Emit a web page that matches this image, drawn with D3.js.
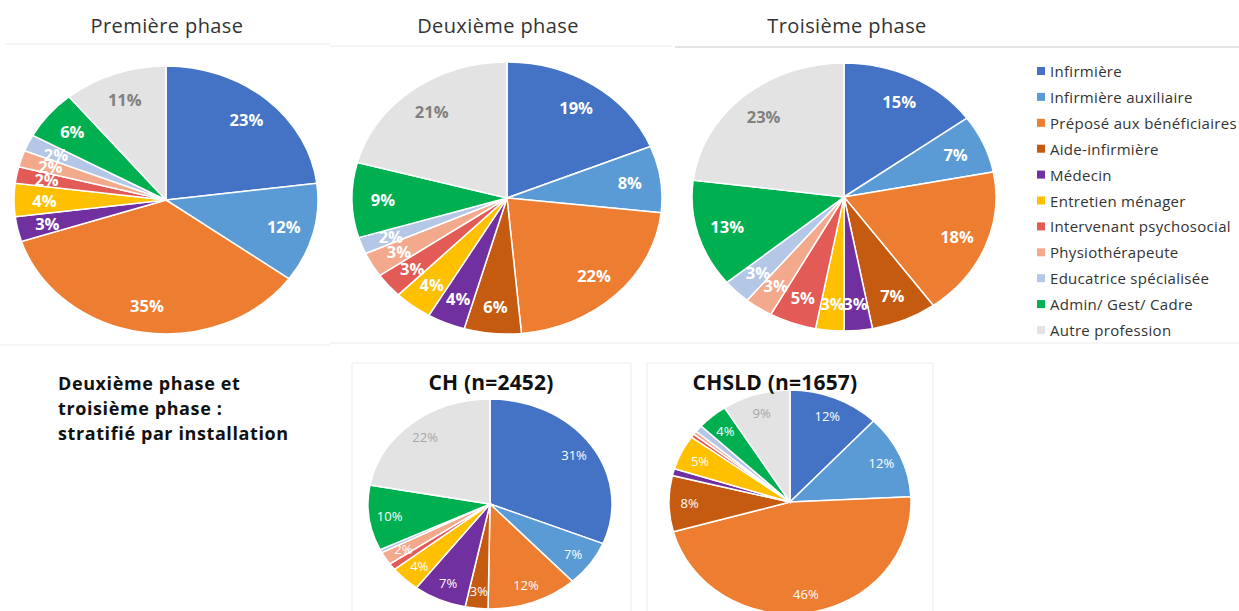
<!DOCTYPE html>
<html><head><meta charset="utf-8">
<script src="https://cdn.jsdelivr.net/npm/d3@7"></script>
<style>
body{margin:0;background:#fff;}
svg{display:block;font-family:"Open Sans",sans-serif;}
</style></head>
<body>
<svg id="c" width="1239" height="611"></svg>
<script>
const categories = ["Infirmière","Infirmière auxiliaire","Préposé aux bénéficiaires","Aide-infirmière","Médecin","Entretien ménager","Intervenant psychosocial","Physiothérapeute","Educatrice spécialisée","Admin/ Gest/ Cadre","Autre profession"];
const colors = ["#4472C4","#5B9BD5","#ED7D31","#C55A11","#7030A0","#FFC000","#E35B56","#F2A98C","#B4C7E7","#00B050","#E4E3E3"];

const phase1 = [23,12,35,0,3,4,2,2,2,6,11];
const phase2 = [19,8,22,6,4,4,3,3,2,9,21];
const phase3 = [15,7,18,7,3,3,5,3,3,13,23];
const ch     = [31,7,12,3,7,4,1,2,0.5,10,22];
const chsld  = [12,12,46,8,1,5,0.5,0.5,1,4,9];

const phase1Labels = ["23%","12%","35%",null,"3%","4%","2%","2%","2%","6%","11%"];
const phase2Labels = ["19%","8%","22%","6%","4%","4%","3%","3%","2%","9%","21%"];
const phase3Labels = ["15%","7%","18%","7%","3%","3%","5%","3%","3%","13%","23%"];
const chLabels     = ["31%","7%","12%","3%","7%","4%",null,"2%",null,"10%","22%"];
const chsldLabels  = ["12%","12%","46%","8%",null,"5%",null,null,null,"4%","9%"];

const titles = ["Première phase","Deuxième phase","Troisième phase","CH (n=2452)","CHSLD (n=1657)"];
const sideText = ["Deuxième phase et","troisième phase :","stratifié par installation"];

const svg = d3.select("#c");

// faint panel frames
const frameLines = [
  [5,44,330,44],[330,46,672,46],[675,47,1239,47],
  [0,345,330,345],[330,343,1239,343],
  [352,363,631,363],[352,363,352,611],[631,363,631,611],
  [647,363,933,363],[647,363,647,611],[933,363,933,611]
];
svg.selectAll("line.f").data(frameLines).join("line")
  .attr("x1",d=>d[0]).attr("y1",d=>d[1]).attr("x2",d=>d[2]).attr("y2",d=>d[3])
  .attr("stroke",(d,i)=>i===2?"#c8c8c8":"#ececec").attr("stroke-width",1);

const pie = d3.pie().sort(null).value(d=>d);

function drawPie(values, labels, cfg){
  const arcs = pie(values);
  const g = svg.append("g").attr("transform",`translate(${cfg.cx},${cfg.cy}) scale(${cfg.rx/cfg.ry},1)`);
  const arc = d3.arc().innerRadius(0).outerRadius(cfg.ry);
  g.selectAll("path").data(arcs.filter(a=>a.value>0)).join("path")
    .attr("d",arc).attr("fill",d=>colors[d.index])
    .attr("stroke","#fff").attr("stroke-width",1.5).attr("vector-effect","non-scaling-stroke");
  svg.append("g").selectAll("text").data(arcs.filter(a=>labels[a.index])).join("text")
    .attr("x",d=>cfg.cx + cfg.k*cfg.rx*Math.sin((d.startAngle+d.endAngle)/2))
    .attr("y",d=>cfg.cy - cfg.k*cfg.ry*Math.cos((d.startAngle+d.endAngle)/2))
    .attr("text-anchor","middle").attr("dominant-baseline","central")
    .attr("font-size",cfg.fs).attr("font-weight",cfg.bold?"bold":"normal")
    .attr("fill",d=>d.index===10?cfg.grey:"#fff")
    .text(d=>labels[d.index]);
}

drawPie(phase1, phase1Labels, {cx:166,cy:200,rx:152,ry:134,k:0.8,fs:16.5,bold:true,grey:"#808080"});
drawPie(phase2, phase2Labels, {cx:507,cy:198,rx:155,ry:136,k:0.8,fs:16.5,bold:true,grey:"#808080"});
drawPie(phase3, phase3Labels, {cx:844,cy:197,rx:152,ry:134,k:0.8,fs:16.5,bold:true,grey:"#808080"});
drawPie(ch, chLabels, {cx:490,cy:504,rx:122,ry:105,k:0.83,fs:13,bold:false,grey:"#a6a6a6"});
drawPie(chsld, chsldLabels, {cx:790,cy:502,rx:121,ry:112,k:0.83,fs:13,bold:false,grey:"#a6a6a6"});

// titles
const titlePos = [[167,25,20,"normal","#333",0.4],[498,25,20,"normal","#333",0.4],[847,25,20,"normal","#333",0.4],[491,382,21,"bold","#111",0.2],[775,382,21,"bold","#111",0.2]];
svg.selectAll("text.t").data(titles).join("text").attr("class","t")
  .attr("x",(d,i)=>titlePos[i][0]).attr("y",(d,i)=>titlePos[i][1])
  .attr("font-size",(d,i)=>titlePos[i][2]).attr("font-weight",(d,i)=>titlePos[i][3])
  .attr("fill",(d,i)=>titlePos[i][4]).attr("letter-spacing",(d,i)=>titlePos[i][5])
  .attr("text-anchor","middle").attr("dominant-baseline","central").text(d=>d);

// side text
svg.selectAll("text.s").data(sideText).join("text").attr("class","s")
  .attr("x",58).attr("y",(d,i)=>383+i*25).attr("dominant-baseline","central")
  .attr("font-size",18).attr("letter-spacing",0.6).attr("font-weight","bold").attr("fill","#111").text(d=>d);

// legend
const lg = svg.append("g").attr("transform","translate(1037,71)");
const li = lg.selectAll("g").data(categories).join("g").attr("transform",(d,i)=>`translate(0,${i*25.9})`);
li.append("rect").attr("x",0).attr("y",-4).attr("width",8).attr("height",8).attr("fill",(d,i)=>colors[i]);
li.append("text").attr("x",13).attr("y",0).attr("dominant-baseline","central")
  .attr("font-size",15).attr("letter-spacing",0.3).attr("fill","#333").text(d=>d);
</script>
</body></html>
